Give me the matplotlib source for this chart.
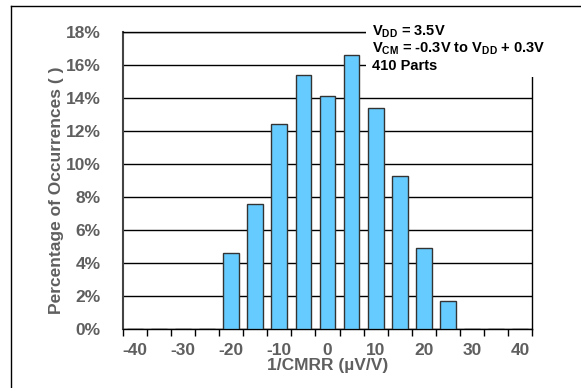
import matplotlib
matplotlib.use("Agg")
import matplotlib.pyplot as plt
from matplotlib.patches import Rectangle
from matplotlib.lines import Line2D
import numpy as np

plt.rcParams['font.family'] = ['Liberation Sans', 'DejaVu Sans']
plt.rcParams['mathtext.fontset'] = 'custom'
plt.rcParams['mathtext.rm'] = 'Liberation Sans:bold'
plt.rcParams['mathtext.bf'] = 'Liberation Sans:bold'

# histogram bins of 1/CMRR (uV/V) and share of the 410 parts in each bin (%)
bins = [-40, -35, -30, -25, -20, -15, -10, -5, 0, 5, 10, 15, 20, 25, 30, 35, 40]
pct = [0, 0, 0, 0, 4.63, 7.56, 12.44, 15.37, 14.15, 16.59, 13.41, 9.27, 4.88, 1.71, 0, 0, 0]
ytick_vals = [0, 2, 4, 6, 8, 10, 12, 14, 16, 18]

grey = '#5f5f5f'
W, H = 581, 388
fig = plt.figure(figsize=(W / 100, H / 100), dpi=100)
ax = fig.add_axes([123 / W, 1 - 329 / H, 409 / W, 297 / H])

x = np.arange(len(bins))
ax.set_axisbelow(True)
ax.bar(x, pct, width=0.66, color='#66ccff', edgecolor='#333333', linewidth=1.0, zorder=3)

ax.set_xlim(-0.5, len(bins) - 0.5)
ax.set_ylim(0, 18)
ax.set_yticks(ytick_vals)
ax.set_yticklabels(['%d%%' % v for v in ytick_vals])
ax.yaxis.grid(True, color='black', linewidth=1.0)
ax.tick_params(axis='y', length=0, pad=16, labelsize=12.5, labelcolor=grey)

ax.set_xticks(x[::2])
ax.set_xticklabels([str(b) for b in bins[::2]])
ax.set_xticks(np.arange(-0.5, len(bins), 1.0), minor=True)
ax.tick_params(axis='x', which='major', length=0, pad=10, labelsize=12.5, labelcolor=grey)
ax.tick_params(axis='x', which='minor', length=5, width=1.0, color='black', direction='out')
for lab in ax.get_xticklabels() + ax.get_yticklabels():
    lab.set_fontweight('bold')

ax.spines['left'].set_color('#444444')
ax.spines['left'].set_linewidth(1.5)
for s in ['top', 'right', 'bottom']:
    ax.spines[s].set_color('black')
    ax.spines[s].set_linewidth(1.0)

ax.set_xlabel('1/CMRR (µV/V)', fontsize=12.5, fontweight='bold', color=grey, labelpad=0)
fig.text(57 / W, 1 - 190 / H, 'Percentage of Occurrences ( )', rotation=90,
         ha='center', va='center', fontsize=12.5, fontweight='bold', color=grey)

# white box behind the conditions text
fig.patches.append(Rectangle((366 / W, 1 - 77 / H), 200 / W, 55 / H, transform=fig.transFigure,
                             facecolor='white', edgecolor='none', zorder=5))
lines = [r'$\mathbf{V_{DD}}$ = 3.5V',
         r'$\mathbf{V_{CM}}$ = -0.3V to $\mathbf{V_{DD}}$ + 0.3V',
         '410 Parts']
for i, t in enumerate(lines):
    fig.text(372 / W, 1 - (32 + 17 * i) / H, t, ha='left', va='center',
             fontsize=10.5, fontweight='bold', color='black', zorder=6)

# outer frame (only left and top edges fall inside the picture)
fig.lines.append(Line2D([10.5 / W, 10.5 / W], [0, 1 - 5.5 / H], transform=fig.transFigure,
                        color='black', linewidth=1.0))
fig.lines.append(Line2D([10.5 / W, 1], [1 - 5.5 / H, 1 - 5.5 / H], transform=fig.transFigure,
                        color='black', linewidth=1.0))

fig.savefig('out.png', dpi=100)
